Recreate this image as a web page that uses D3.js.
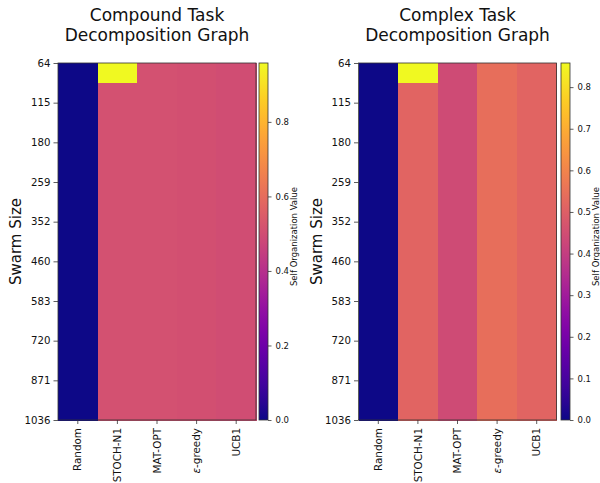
<!DOCTYPE html>
<html>
<head>
<meta charset="utf-8">
<script src="https://cdn.jsdelivr.net/npm/d3@7"></script>
<style>
  html, body { margin: 0; padding: 0; background: #fff; }
  svg { display: block; font-family: "DejaVu Sans", sans-serif; }
</style>
</head>
<body>
<svg id="chart" width="600" height="483"></svg>
<script>
// ---------------- data ----------------
const methods = ["Random", "STOCH-N1", "MAT-OPT", "ε-greedy", "UCB1"];
const swarmTicks = [64, 115, 180, 259, 352, 460, 583, 720, 871, 1036];

// 18 rows per method (top = smallest swarm)
const compoundRandom  = [0,0,0,0,0,0,0,0,0,0,0,0,0,0,0,0,0,0];
const compoundStoch   = [0.958,0.51,0.51,0.51,0.51,0.51,0.51,0.51,0.51,0.51,0.51,0.51,0.51,0.51,0.51,0.51,0.51,0.51];
const compoundMatOpt  = [0.51,0.51,0.51,0.51,0.51,0.51,0.51,0.51,0.51,0.51,0.51,0.51,0.51,0.51,0.51,0.51,0.51,0.51];
const compoundEGreedy = [0.508,0.508,0.508,0.508,0.508,0.508,0.508,0.508,0.508,0.508,0.508,0.508,0.508,0.508,0.508,0.508,0.508,0.508];
const compoundUCB1    = [0.50,0.50,0.50,0.50,0.50,0.50,0.50,0.50,0.50,0.50,0.50,0.50,0.50,0.50,0.50,0.50,0.50,0.50];

const complexRandom  = [0,0,0,0,0,0,0,0,0,0,0,0,0,0,0,0,0,0];
const complexStoch   = [0.858,0.515,0.515,0.515,0.515,0.515,0.515,0.515,0.515,0.515,0.515,0.515,0.515,0.515,0.515,0.515,0.515,0.515];
const complexMatOpt  = [0.44,0.44,0.44,0.44,0.44,0.44,0.44,0.44,0.44,0.44,0.44,0.44,0.44,0.44,0.44,0.44,0.44,0.44];
const complexEGreedy = [0.54,0.54,0.54,0.54,0.54,0.54,0.54,0.54,0.54,0.54,0.54,0.54,0.54,0.54,0.54,0.54,0.54,0.54];
const complexUCB1    = [0.515,0.515,0.515,0.515,0.515,0.515,0.515,0.515,0.515,0.515,0.515,0.515,0.515,0.515,0.515,0.515,0.515,0.515];

const compoundTicks = [0, 0.2, 0.4, 0.6, 0.8];
const complexTicks  = [0, 0.1, 0.2, 0.3, 0.4, 0.5, 0.6, 0.7, 0.8];

const panels = [
  { title: ["Compound Task", "Decomposition Graph"],
    series: [compoundRandom, compoundStoch, compoundMatOpt, compoundEGreedy, compoundUCB1],
    cbTicks: compoundTicks, x0: 58, cbx: 259, id: "a" },
  { title: ["Complex Task", "Decomposition Graph"],
    series: [complexRandom, complexStoch, complexMatOpt, complexEGreedy, complexUCB1],
    cbTicks: complexTicks, x0: 358.5, cbx: 561, id: "b" }
];

// ---------------- drawing ----------------
const svg = d3.select("#chart");
const defs = svg.append("defs");
const mapTop = 63, mapBottom = 420, mapW = 198, cbW = 9;
const spine = "#333";

panels.forEach(p => {
  const nRows = p.series[0].length;
  const vmax = d3.max(p.series.flat());
  const color = d3.scaleSequential(d3.interpolatePlasma).domain([0, vmax]);

  const x = d3.scaleBand().domain(methods).range([p.x0, p.x0 + mapW]);
  const rowScale = d3.scaleBand().domain(d3.range(nRows)).range([mapTop, mapBottom]);
  const yTick = d3.scalePoint().domain(swarmTicks).range([mapTop, mapBottom]);

  const g = svg.append("g");

  // cells
  const cells = g.append("g").attr("shape-rendering", "crispEdges");
  p.series.forEach((col, ci) => {
    cells.selectAll(null).data(col).join("rect")
      .attr("x", x(methods[ci]))
      .attr("y", (d, ri) => rowScale(ri))
      .attr("width", x.bandwidth() + 0.5)
      .attr("height", rowScale.bandwidth() + 0.5)
      .attr("fill", d => color(d));
  });

  // frame
  g.append("rect").attr("x", p.x0).attr("y", mapTop).attr("width", mapW).attr("height", mapBottom - mapTop)
    .attr("fill", "none").attr("stroke", spine).attr("stroke-width", 0.8);

  // y axis
  const yAxis = d3.axisLeft(yTick).tickSize(4.5).tickPadding(3);
  const ya = g.append("g").attr("transform", `translate(${p.x0},0)`).call(yAxis);
  ya.select(".domain").remove();
  ya.selectAll("line").attr("stroke", spine).attr("stroke-width", 0.8);
  ya.selectAll("text").attr("font-size", 10.2).attr("fill", "#111").attr("font-family", "DejaVu Sans");

  // x axis
  const xAxis = d3.axisBottom(x).tickSize(4).tickPadding(3);
  const xa = g.append("g").attr("transform", `translate(0,${mapBottom})`).call(xAxis);
  xa.select(".domain").remove();
  xa.selectAll("line").attr("stroke", spine).attr("stroke-width", 0.8);
  xa.selectAll("text")
    .attr("font-size", 10.4).attr("fill", "#111").attr("font-family", "DejaVu Sans")
    .attr("transform", "rotate(-90)")
    .attr("text-anchor", "end")
    .attr("x", -8).attr("y", 0).attr("dy", "0.35em")
    .each(function(d) {
      if (d === "ε-greedy") {
        const t = d3.select(this);
        t.text(null);
        t.append("tspan").attr("font-style", "italic").text("ε");
        t.append("tspan").text("-greedy");
      }
    });

  // y label
  g.append("text")
    .attr("transform", `translate(${p.x0 - 37},${(mapTop + mapBottom) / 2}) rotate(-90)`)
    .attr("text-anchor", "middle").attr("font-size", 15).attr("fill", "#111")
    .text("Swarm Size");

  // title
  const cx = p.x0 + mapW / 2;
  g.append("text").attr("x", cx).attr("y", 21).attr("text-anchor", "middle")
    .attr("font-size", 17).attr("fill", "#111").text(p.title[0]);
  g.append("text").attr("x", cx).attr("y", 41).attr("text-anchor", "middle")
    .attr("font-size", 17).attr("fill", "#111").text(p.title[1]);

  // colorbar
  const gradId = "grad" + p.id;
  const grad = defs.append("linearGradient").attr("id", gradId)
    .attr("x1", 0).attr("y1", 1).attr("x2", 0).attr("y2", 0);
  d3.range(0, 1.0001, 0.05).forEach(t => {
    grad.append("stop").attr("offset", t).attr("stop-color", d3.interpolatePlasma(t));
  });
  g.append("rect").attr("x", p.cbx).attr("y", mapTop).attr("width", cbW).attr("height", mapBottom - mapTop)
    .attr("fill", `url(#${gradId})`).attr("stroke", spine).attr("stroke-width", 0.8);

  const cbScale = d3.scaleLinear().domain([0, vmax]).range([mapBottom, mapTop]);
  const cbAxis = d3.axisRight(cbScale).tickValues(p.cbTicks).tickFormat(d3.format(".1f"))
    .tickSize(3.5).tickPadding(4);
  const ca = g.append("g").attr("transform", `translate(${p.cbx + cbW},0)`).call(cbAxis);
  ca.select(".domain").remove();
  ca.selectAll("line").attr("stroke", spine).attr("stroke-width", 0.8);
  ca.selectAll("text").attr("font-size", 8.5).attr("fill", "#111").attr("font-family", "DejaVu Sans");

  g.append("text")
    .attr("transform", `translate(${p.cbx + cbW + 29},${(mapTop + mapBottom) / 2 - 5}) rotate(-90)`)
    .attr("text-anchor", "middle").attr("font-size", 8.5).attr("fill", "#111")
    .text("Self Organization Value");
});
</script>
</body>
</html>
